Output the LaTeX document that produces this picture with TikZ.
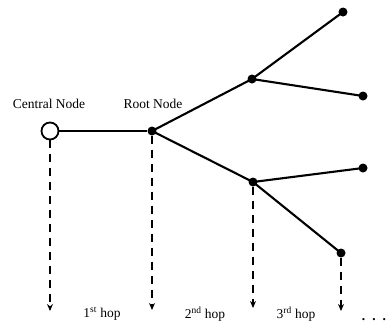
\documentclass[tikz,border=0pt]{standalone}
\usepackage{fontspec}
\setmainfont{Liberation Serif}
\usetikzlibrary{arrows.meta}
\begin{document}
\begin{tikzpicture}[x=1pt,y=-1pt,
  dotnode/.style={circle,fill=black,inner sep=0pt,minimum size=9pt},
  ringnode/.style={circle,draw=black,line width=1.8pt,fill=white,inner sep=0pt,minimum size=17pt},
  edge/.style={line width=2.1pt,black},
  hoparrow/.style={line width=1.4pt,dash pattern=on 8pt off 6pt,-{Stealth[length=7pt,width=6pt]}},
  lbl/.style={font=\fontsize{13.5}{15}\selectfont,inner sep=0pt}]
\useasboundingbox (0,0) rectangle (388,325);
% nodes
\node[ringnode] (c) at (50,131) {};
\node[dotnode] (r) at (152,131) {};
\node[dotnode] (m1) at (252,79) {};
\node[dotnode] (m2) at (253,182) {};
\node[dotnode] (l1) at (343,12) {};
\node[dotnode] (l2) at (363,96) {};
\node[dotnode] (l3) at (363,168) {};
\node[dotnode] (l4) at (341,253) {};
% labels
\node[lbl] (tc) at (49,104) {Central Node};
\node[lbl] (tr) at (153,104) {Root Node};
\node[lbl] (h1) at (102,314) {1\textsuperscript{st} hop};
\node[lbl] (h2) at (205,314) {2\textsuperscript{nd} hop};
\node[lbl] (h3) at (296,314) {3\textsuperscript{rd} hop};
\node[lbl,anchor=base] (dots) at (374,320) {\textbf{.\hspace{7pt}.\hspace{7pt}.}};
% edges
\draw[edge] (c) -- (r);
\draw[edge] (r.center) -- (m1.center);
\draw[edge] (r.center) -- (m2.center);
\draw[edge] (m1.center) -- (l1.center);
\draw[edge] (m1.center) -- (l2.center);
\draw[edge] (m2.center) -- (l3.center);
\draw[edge] (m2.center) -- (l4.center);
% hop arrows
\coordinate (a1) at (50,311);
\coordinate (a2) at (152,310);
\coordinate (a3) at (253,308);
\coordinate (a4) at (341,311);
\draw[hoparrow] (c.south) -- (a1);
\draw[hoparrow] (r.south) -- (a2);
\draw[hoparrow] (m2.south) -- (a3);
\draw[hoparrow] (l4.south) -- (a4);
\end{tikzpicture}
\end{document}
